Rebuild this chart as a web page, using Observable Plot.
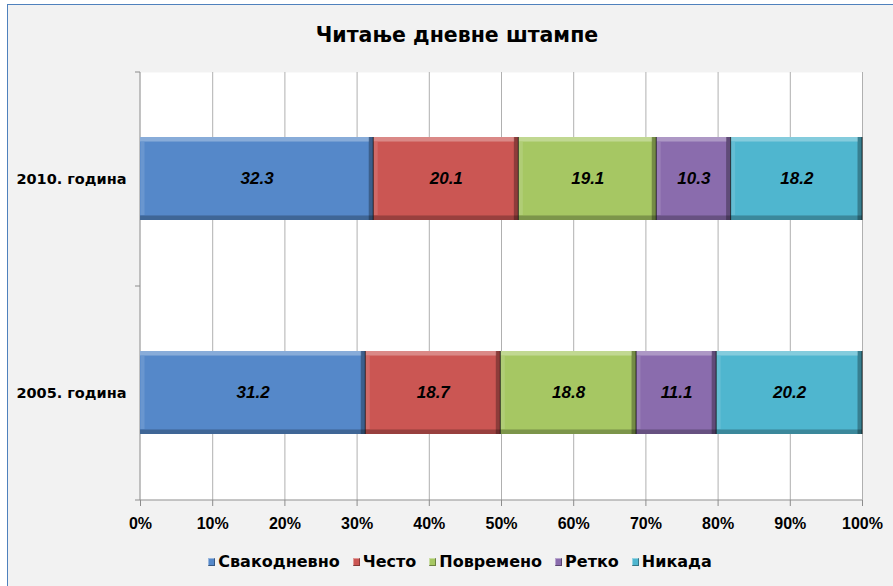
<!DOCTYPE html>
<html>
<head>
<meta charset="utf-8">
<script src="https://cdn.jsdelivr.net/npm/d3@7"></script>
<script src="https://cdn.jsdelivr.net/npm/@observablehq/plot@0.6"></script>
<style>
  html, body { margin: 0; padding: 0; background: #ffffff; }
  #wrap { position: relative; width: 893px; height: 586px; overflow: hidden; font-family: "DejaVu Sans", sans-serif; }
  #frame { position: absolute; left: 7px; top: 4px; width: 900px; height: 600px; background: #f2f2f2; border-left: 1.5px solid #4f81bd; border-top: 1.5px solid #4f81bd; }
  #chart { position: absolute; left: 0; top: 0; }
  #title { position: absolute; left: 0; width: 914px; top: 23px; text-align: center; font-size: 20.5px; font-weight: bold; color: #000; }
  #legend { position: absolute; left: 0; width: 920px; top: 552px; display: flex; justify-content: center; gap: 13px; font-size: 16px; font-weight: bold; color: #000; }
  #legend .item { display: flex; align-items: center; gap: 3px; }
  #legend .sw { display: inline-block; width: 7px; height: 8px; box-shadow: inset -1px -1px 0 rgba(0,0,0,0.35), inset 1px 1px 0 rgba(255,255,255,0.4); }
</style>
</head>
<body>
<div id="wrap">
  <div id="frame"></div>
  <div id="chart"></div>
  <div id="title"></div>
  <div id="legend"></div>
</div>
<script>
const titleText = "Читање дневне штампе";
const years = ["2010. година", "2005. година"];
const categories = ["Свакодневно", "Често", "Повремено", "Ретко", "Никада"];
const values2010 = [32.3, 20.1, 19.1, 10.3, 18.2];
const values2005 = [31.2, 18.7, 18.8, 11.1, 20.2];
const colors = ["#5588c9", "#cb5653", "#a6c763", "#8a6cad", "#4fb6cf"];
const xTicks = [0, 10, 20, 30, 40, 50, 60, 70, 80, 90, 100];

const seriesByYear = [values2010, values2005];
const rows = years.flatMap((y, i) => categories.map((c, j) => ({year: y, cat: c, value: seriesByYear[i][j]})));

const W = 893, H = 586, mT = 72, mB = 86, mL = 140, mR = 31;
const padIn = 0.61, padOut = 0.305;
const step = (H - mT - mB) / (years.length - padIn + 2 * padOut);
const bw = step * (1 - padIn);
const sans = "'Liberation Sans', Arial, sans-serif";
const wide = "'DejaVu Sans', sans-serif";

const stack = (extra) => Plot.stackX({x: "value", y: "year", z: "cat", order: categories, ...extra});

const axisDecor = (index, scales, values, dims) => {
  const g = d3.create("svg:g");
  const top = dims.marginTop, bottom = dims.height - dims.marginBottom, left = dims.marginLeft, right = dims.width - dims.marginRight;
  const bounds = [top, (top + bottom) / 2, bottom];
  g.append("line").attr("x1", left).attr("x2", left).attr("y1", top).attr("y2", bottom).attr("stroke", "#8c8c8c");
  g.append("line").attr("x1", left).attr("x2", right).attr("y1", bottom).attr("y2", bottom).attr("stroke", "#8c8c8c");
  for (const b of bounds) g.append("line").attr("x1", left - 5).attr("x2", left).attr("y1", b).attr("y2", b).attr("stroke", "#8c8c8c");
  return g.node();
};

const plot = Plot.plot({
  width: W, height: H,
  marginTop: mT, marginBottom: mB, marginLeft: mL, marginRight: mR,
  style: {background: "transparent", fontFamily: sans},
  x: {domain: [0, 100], ticks: xTicks},
  y: {domain: years, paddingInner: padIn, paddingOuter: padOut},
  color: {domain: categories, range: colors},
  marks: [
    Plot.frame({fill: "white", stroke: "none"}),
    Plot.ruleX(xTicks.slice(1), {stroke: "#b0b0b0", strokeWidth: 1}),
    axisDecor,
    Plot.barX(rows, stack({fill: "cat"})),
    Plot.barX(rows, stack({fill: "white", fillOpacity: 0.3, insetBottom: bw - 5, insetRight: 4})),
    Plot.barX(rows, stack({fill: "black", fillOpacity: 0.25, insetTop: bw - 5})),
    Plot.tickX(rows, Plot.stackX1({x: "value", y: "year", z: "cat", order: categories, stroke: "white", strokeOpacity: 0.12, strokeWidth: 4, dx: 2, insetTop: 5, insetBottom: 5})),
    Plot.tickX(rows, Plot.stackX2({x: "value", y: "year", z: "cat", order: categories, stroke: "black", strokeOpacity: 0.3, strokeWidth: 5, dx: -2.5})),
    Plot.tickX(rows, Plot.stackX2({x: "value", y: "year", z: "cat", order: categories, stroke: "black", strokeOpacity: 0.6, strokeWidth: 1, dx: -0.5})),
    Plot.text(rows, stack({text: d => d.value.toFixed(1), fill: "black", fontWeight: "bold", fontStyle: "italic", fontSize: 17, fontFamily: sans})),
    Plot.axisX({ticks: xTicks, tickFormat: d => d + "%", tickSize: 6, tickPadding: 11, stroke: "#8c8c8c", fill: "black", fontSize: 16, fontWeight: "bold", fontFamily: sans, anchor: "bottom", label: null}),
    Plot.axisY({tickSize: 0, tickPadding: 14, fill: "black", fontSize: 14.5, fontWeight: "bold", fontFamily: wide, anchor: "left", label: null})
  ]
});
document.getElementById("chart").appendChild(plot);
document.getElementById("title").textContent = titleText;

const legend = d3.select("#legend");
categories.forEach((c, i) => {
  const it = legend.append("span").attr("class", "item");
  it.append("span").attr("class", "sw").style("background", colors[i]);
  it.append("span").text(c);
});
</script>
</body>
</html>
